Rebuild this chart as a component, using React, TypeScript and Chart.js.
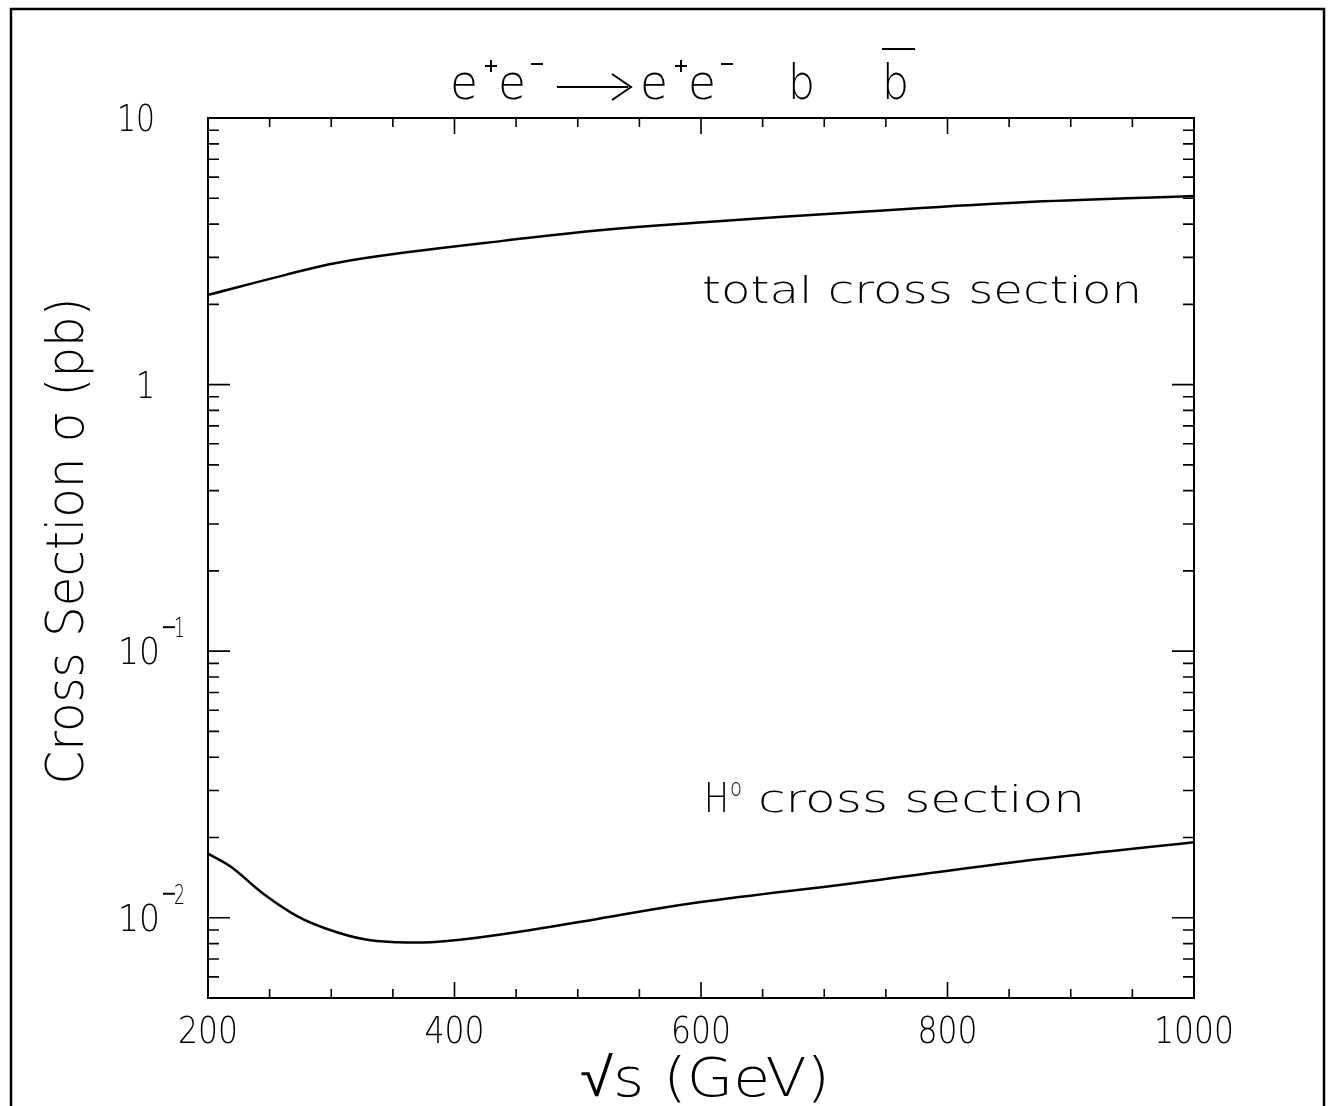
import React, { useEffect, useRef } from "react";
import { Chart, registerables } from "chart.js";

Chart.register(...registerables);

// ---- data ----
const energyTotal = [200, 263, 304, 358, 439, 520, 602, 731, 869, 1000];
const sigmaTotal = [2.17, 2.58, 2.86, 3.12, 3.46, 3.8, 4.06, 4.45, 4.85, 5.1];

const energyHiggs = [200, 218, 246, 273, 299, 327, 354, 381, 408, 462, 516, 597, 725, 860, 1000];
const sigmaHiggs = [0.0174, 0.0156, 0.0122, 0.0101, 0.009, 0.0083, 0.0081, 0.0081, 0.0083, 0.009, 0.0099, 0.0114, 0.0135, 0.0163, 0.0192];

// ---- axes ----
const xMin = 200;
const xMax = 1000;
const yMin = 0.005;
const yMax = 10;
const xMajorTicks = [200, 400, 600, 800, 1000];
const xMinorTicks = [250, 300, 350, 450, 500, 550, 650, 700, 750, 850, 900, 950];
const xTickLabels = ["200", "400", "600", "800", "1000"];
const yMajorTicks = [0.01, 0.1, 1, 10];
const yTickBase = ["10", "10", "1", "10"];
const yTickExp = ["2", "1", "", ""];
const yMinorTicks = [
  0.005, 0.006, 0.007, 0.008, 0.009,
  0.02, 0.03, 0.04, 0.05, 0.06, 0.07, 0.08, 0.09,
  0.2, 0.3, 0.4, 0.5, 0.6, 0.7, 0.8, 0.9,
  2, 3, 4, 5, 6, 7, 8, 9,
];

const labelTotal = "total cross section";
const labelHiggsSup = "o";
const labelHiggsRest = " cross section";
const yTitle = "Cross Section \u03c3 (pb)";
const xTitle = "\u221as (GeV)";

const FAM = "'DejaVu Sans', 'Liberation Sans', sans-serif";
const W = 1331;
const H = 1106;

function font(size: number) {
  return `200 ${size}px ${FAM}`;
}

function fitText(
  ctx: CanvasRenderingContext2D,
  text: string,
  x: number,
  y: number,
  width: number,
  size: number,
  align: "left" | "center" | "right" = "left"
) {
  ctx.save();
  ctx.font = font(size);
  ctx.textAlign = "left";
  ctx.textBaseline = "alphabetic";
  const w = ctx.measureText(text).width;
  const sx = width / w;
  let x0 = x;
  if (align === "center") x0 = x - width / 2;
  if (align === "right") x0 = x - width;
  ctx.translate(x0, y);
  ctx.scale(sx, 1);
  ctx.fillText(text, 0, 0);
  ctx.restore();
}

function line(ctx: CanvasRenderingContext2D, x1: number, y1: number, x2: number, y2: number, lw = 2) {
  ctx.lineWidth = lw;
  ctx.beginPath();
  ctx.moveTo(x1, y1);
  ctx.lineTo(x2, y2);
  ctx.stroke();
}

const decorPlugin = {
  id: "decor",
  afterDraw(chart: any) {
    const ctx: CanvasRenderingContext2D = chart.ctx;
    const xs = chart.scales.x;
    const ys = chart.scales.y;
    const { left, right, top, bottom } = chart.chartArea;
    ctx.save();
    ctx.strokeStyle = "#000";
    ctx.fillStyle = "#000";

    // outer frame
    ctx.lineWidth = 2.5;
    ctx.beginPath();
    ctx.moveTo(11, H + 5);
    ctx.lineTo(11, 9);
    ctx.lineTo(1324, 9);
    ctx.lineTo(1324, H + 5);
    ctx.stroke();

    // plot box
    ctx.lineWidth = 2;
    ctx.strokeRect(left, top, right - left, bottom - top);

    // ticks
    ctx.lineWidth = 1.6;
    ctx.beginPath();
    const xt = (v: number, len: number) => {
      const px = xs.getPixelForValue(v);
      ctx.moveTo(px, bottom);
      ctx.lineTo(px, bottom - len);
      ctx.moveTo(px, top);
      ctx.lineTo(px, top + len);
    };
    const yt = (v: number, len: number) => {
      const py = ys.getPixelForValue(v);
      ctx.moveTo(left, py);
      ctx.lineTo(left + len, py);
      ctx.moveTo(right, py);
      ctx.lineTo(right - len, py);
    };
    xMajorTicks.forEach((v) => xt(v, 16));
    xMinorTicks.forEach((v) => xt(v, 9));
    yMajorTicks.forEach((v) => yt(v, 22));
    yMinorTicks.forEach((v) => yt(v, 11));
    ctx.stroke();

    // x tick labels
    xMajorTicks.forEach((v, i) => {
      const px = xs.getPixelForValue(v);
      const t = xTickLabels[i];
      fitText(ctx, t, px, bottom + 45, 20 * t.length, 38, "center");
    });

    // y tick labels
    yMajorTicks.forEach((v, i) => {
      const py = ys.getPixelForValue(v);
      const base = yTickBase[i];
      const exp = yTickExp[i];
      if (exp) {
        fitText(ctx, base, 160, py + 13, 42, 37, "right");
        // superscript: minus bar + digit
        line(ctx, 163, py - 24, 175, py - 24, 2);
        fitText(ctx, exp, 174, py - 14, 11, 27, "left");
      } else {
        fitText(ctx, base, 155, py + 13, base.length * 19, 37, "right");
      }
    });

    // axis titles
    fitText(ctx, xTitle, 705, 1096, 250, 54, "center");
    ctx.save();
    ctx.translate(83, 541);
    ctx.rotate(-Math.PI / 2);
    fitText(ctx, yTitle, 0, 0, 487, 52, "center");
    ctx.restore();

    // curve labels
    fitText(ctx, labelTotal, 702, 303, 440, 38, "left");
    fitText(ctx, "H", 704, 812, 25, 40, "left");
    fitText(ctx, labelHiggsSup, 730, 796, 12, 24, "left");
    fitText(ctx, labelHiggsRest, 742, 812, 343, 38, "left");

    // title: e+e- -> e+e- b bbar
    const tb = 99;
    const ts = 48;
    fitText(ctx, "e", 450, tb, 28, ts);
    line(ctx, 485, 66, 497, 66, 2);
    line(ctx, 491, 60, 491, 72, 2);
    fitText(ctx, "e", 498, tb, 28, ts);
    line(ctx, 531, 64, 543, 64, 2);
    line(ctx, 557, 87, 628, 87, 2);
    ctx.lineWidth = 2;
    ctx.beginPath();
    ctx.moveTo(612, 74);
    ctx.lineTo(631, 87);
    ctx.lineTo(612, 100);
    ctx.stroke();
    fitText(ctx, "e", 640, tb, 28, ts);
    line(ctx, 675, 66, 687, 66, 2);
    line(ctx, 681, 60, 681, 72, 2);
    fitText(ctx, "e", 688, tb, 28, ts);
    line(ctx, 721, 64, 733, 64, 2);
    fitText(ctx, "b", 788, tb, 27, ts);
    fitText(ctx, "b", 882, tb, 27, ts);
    line(ctx, 882, 49, 915, 49, 2);

    ctx.restore();
  },
};

export default function App() {
  const ref = useRef<HTMLCanvasElement | null>(null);

  useEffect(() => {
    if (!ref.current) return;
    const chart = new Chart(ref.current, {
      type: "scatter",
      data: {
        datasets: [
          {
            label: "total",
            data: energyTotal.map((x, i) => ({ x, y: sigmaTotal[i] })),
            showLine: true,
            borderColor: "#000",
            borderWidth: 2.5,
            pointRadius: 0,
            tension: 0.4,
          },
          {
            label: "H0",
            data: energyHiggs.map((x, i) => ({ x, y: sigmaHiggs[i] })),
            showLine: true,
            borderColor: "#000",
            borderWidth: 2.5,
            pointRadius: 0,
            tension: 0.4,
          },
        ],
      },
      options: {
        responsive: false,
        animation: false,
        devicePixelRatio: 1,
        layout: { padding: { left: 208, right: W - 1194, top: 118, bottom: H - 998 } },
        plugins: { legend: { display: false }, tooltip: { enabled: false }, title: { display: false } },
        scales: {
          x: { type: "linear", min: xMin, max: xMax, display: false },
          y: { type: "logarithmic", min: yMin, max: yMax, display: false },
        },
      },
      plugins: [decorPlugin],
    });
    return () => chart.destroy();
  }, []);

  return (
    <div style={{ position: "absolute", left: 0, top: 0, width: W, height: H, background: "#fff" }}>
      <canvas ref={ref} width={W} height={H} style={{ display: "block", width: W, height: H }} />
    </div>
  );
}
